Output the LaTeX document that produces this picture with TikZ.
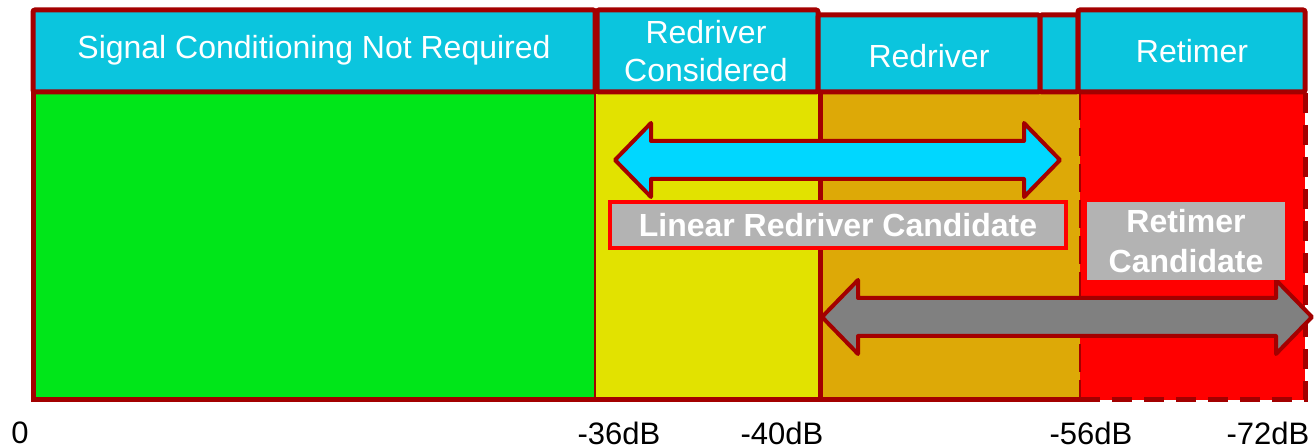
\documentclass[tikz,border=0pt]{standalone}
\usepackage{fontspec}
\setmainfont{Liberation Sans}
\usetikzlibrary{positioning}
\definecolor{frame}{HTML}{A30000}
\definecolor{head}{HTML}{0BC5DE}
\definecolor{go}{HTML}{00E619}
\definecolor{maybe}{HTML}{E2E200}
\definecolor{amber}{HTML}{DDA907}
\definecolor{hot}{HTML}{FF0000}
\definecolor{flow}{HTML}{00D7FF}
\definecolor{slate}{HTML}{808080}
\definecolor{tagfill}{HTML}{B3B3B3}

\begin{document}
\begin{tikzpicture}[x=0.5pt,y=-0.5pt,font=\fontsize{16}{19}\selectfont,
  edge/.style={draw=frame,line width=2.5pt},
  captext/.style={text=white,align=center},
  tagbox/.style={fill=tagfill,text=white,align=center,inner sep=0pt,
    font=\fontsize{16}{20}\selectfont\bfseries},
  blockarrow/.style={draw=frame,line width=2pt,line join=round}]
\useasboundingbox (0,0) rectangle (1314,448);
% bands of the loss scale, pixel coordinates
\foreach \lo/\hi/\col in {33/595/go,595/820/maybe,820/1080/amber,1080/1305/hot}
  \fill[\col] (\lo,92) rectangle (\hi,400);
\draw[edge] (1080,92) -- (33,92) -- (33,400) -- (1080,400);
\draw[frame,line width=1.4pt] (595,92) -- (595,400);
\draw[edge] (820,92) -- (820,400);
\draw[frame,line width=1.2pt,dash pattern=on 14pt off 4pt] (1080,92) -- (1080,400);
\draw[edge,dash pattern=on 10pt off 6pt] (1080,400) -- (1305,400) -- (1305,92);
% header cells
\foreach \lo/\hi/\top in {33/595/10,597/818/10,818/1040/15,1040/1078/15,1078/1305/10}
  \draw[edge,fill=head,rounded corners=1pt] (\lo,\top) rectangle (\hi,92);
\foreach \name/\xx/\yy/\txt in {nocond/314/50/{Signal Conditioning Not Required},
  considered/706/51/{Redriver\\Considered},redriver/929/56/{Redriver},retimer/1192/51/{Retimer}}
  \node[captext] (\name) at (\xx,\yy) {\txt};
% double block arrows: left tip, right tip, middle, fill
\foreach \l/\r/\m/\col in {615/1060/160/flow,822/1312/317/slate}
  \draw[blockarrow,fill=\col] (\l,\m) -- ({\l+36},{\m-37}) -- ({\l+36},{\m-19})
    -- ({\r-36},{\m-19}) -- ({\r-36},{\m-37}) -- (\r,\m) -- ({\r-36},{\m+37})
    -- ({\r-36},{\m+19}) -- ({\l+36},{\m+19}) -- ({\l+36},{\m+37}) -- cycle;
\node[tagbox,draw=hot,line width=2pt,minimum width=228pt,minimum height=23pt]
  (linear) at (838,225) {Linear Redriver Candidate};
\node[tagbox,minimum width=99pt,minimum height=39pt]
  (candidate) at (1186,241) {Retimer\\Candidate};
% scale marks
\foreach \name/\xx/\txt in {zero/20/0,db36/619/-36dB,db40/782/-40dB,db56/1091/-56dB,db72/1268/-72dB}
  \node[font=\fontsize{15.5}{18}\selectfont,inner sep=0pt] (\name) at (\xx,433) {\txt};
\end{tikzpicture}
\end{document}
